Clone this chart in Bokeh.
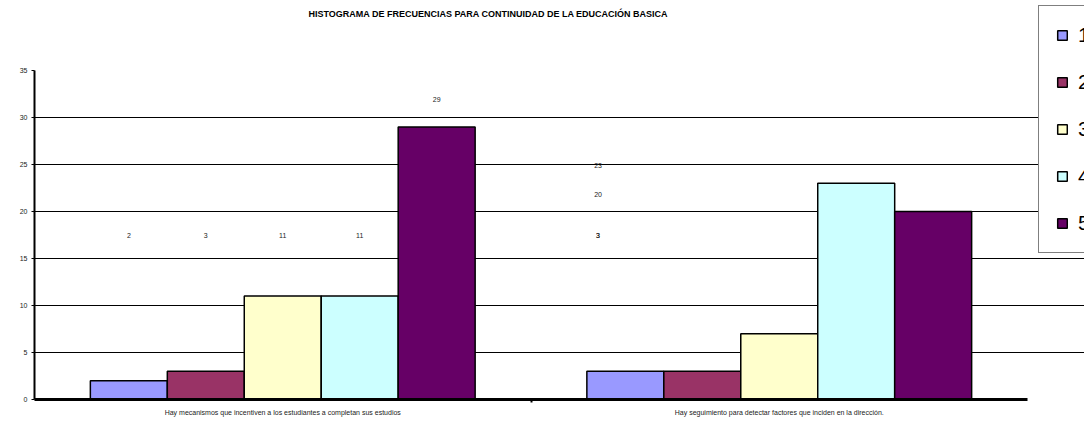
from bokeh.plotting import figure
from bokeh.models import (ColumnDataSource, Range1d, FixedTicker, Legend, LegendItem, Label)
from bokeh.core.properties import value
from bokeh.embed import file_html
from bokeh.resources import INLINE

# ---- data ----
title_text = "HISTOGRAMA DE FRECUENCIAS PARA CONTINUIDAD DE LA EDUCACIÓN BASICA"
categories = [
    "Hay mecanismos que incentiven a los estudiantes a completan sus estudios",
    "Hay seguimiento para detectar factores que inciden en la dirección.",
]
series_names = ["1", "2", "3", "4", "5"]
values_s1 = [2, 3]
values_s2 = [3, 3]
values_s3 = [11, 7]
values_s4 = [11, 23]
values_s5 = [29, 20]
colors = ["#9999FF", "#993366", "#FFFFCC", "#CCFFFF", "#660066"]
y_ticks = [0, 5, 10, 15, 20, 25, 30, 35]

# data-label placement as displayed in the original (value units)
label_text = ["2", "3", "11", "11", "29", "3", "3", "23", "20"]
label_group = [0, 0, 0, 0, 0, 1, 1, 1, 1]
label_series = [0, 1, 2, 3, 4, 0, 0, 0, 0]
label_shift = [0, 0, 0, 0, 0, -0.055, -0.055, -0.055, -0.055]
label_y = [17.4, 17.4, 17.4, 17.4, 31.9, 17.4, 17.4, 24.9, 21.8]

series_values = [values_s1, values_s2, values_s3, values_s4, values_s5]
bar_w = 0.155
FONT = "Liberation Sans"

# the plotting frame spans the legend area too; axes/grid are bounded to the data area
p = figure(width=1084, height=421, output_backend="svg", toolbar_location=None,
           x_range=Range1d(0, 2.1148), y_range=Range1d(0, 42.45),
           min_border_left=34, min_border_right=0, min_border_top=0, min_border_bottom=22)
p.outline_line_color = None
p.background_fill_color = "white"
p.border_fill_color = "white"

p.add_layout(Label(x=454, y=386, x_units="screen", y_units="screen", text=title_text,
                   text_align="center", text_baseline="middle", text_font=FONT,
                   text_font_size="9px", text_font_style="bold", text_color="#000000"))

items = []
for j, vals in enumerate(series_values):
    src = ColumnDataSource(dict(x=[i + 0.5 + (j - 2) * bar_w for i in range(len(vals))], top=vals))
    r = p.vbar(x="x", top="top", width=bar_w, source=src, fill_color=colors[j],
               line_color="black", line_width=1.5)
    items.append(LegendItem(label=series_names[j], renderers=[r]))

lsrc = ColumnDataSource(dict(
    x=[g + 0.5 + (s - 2) * bar_w + sh for g, s, sh in zip(label_group, label_series, label_shift)],
    y=label_y, text=label_text))
p.text(x="x", y="y", text="text", source=lsrc, text_align="center", text_baseline="middle",
       text_font=value(FONT), text_font_size="7px", text_color="#222222")

# axes
p.yaxis.ticker = FixedTicker(ticks=y_ticks)
p.yaxis.bounds = (0, 35)
p.yaxis.major_label_text_font = FONT
p.yaxis.major_label_text_font_size = "7px"
p.yaxis.major_label_text_color = "#222222"
p.yaxis.axis_line_width = 2
p.yaxis.axis_line_color = "black"
p.yaxis.major_tick_out = 3
p.yaxis.major_tick_in = 0
p.yaxis.minor_tick_line_color = None
p.yaxis.major_label_standoff = 4

p.xaxis.ticker = FixedTicker(ticks=[0.5, 1.5], minor_ticks=[1.0])
p.xaxis.bounds = (0, 2)
p.xaxis.major_label_overrides = {0.5: categories[0], 1.5: categories[1]}
p.xaxis.major_label_text_font = FONT
p.xaxis.major_label_text_font_size = "7px"
p.xaxis.major_label_text_color = "#222222"
p.xaxis.axis_line_width = 3
p.xaxis.axis_line_color = "black"
p.xaxis.major_tick_out = 0
p.xaxis.major_tick_in = 0
p.xaxis.minor_tick_out = 3
p.xaxis.minor_tick_in = 0
p.xaxis.minor_tick_line_width = 2
p.xaxis.major_label_standoff = 6

p.xgrid.grid_line_color = None
p.ygrid.ticker = FixedTicker(ticks=[5, 10, 15, 20, 25, 30])
p.ygrid.bounds = (0, 2)
p.ygrid.grid_line_color = "black"
p.ygrid.grid_line_width = 1
p.ygrid.grid_line_alpha = 1

legend = Legend(items=items, location=(1004, 146), orientation="vertical",
                glyph_width=12, glyph_height=12, label_standoff=10,
                label_text_font=FONT, label_text_font_size="21px", label_text_color="black",
                padding=17, spacing=23, margin=0,
                border_line_color="black", border_line_width=1.5,
                background_fill_color="white", background_fill_alpha=1)
p.add_layout(legend)

open("out.html", "w").write(file_html(p, INLINE))
